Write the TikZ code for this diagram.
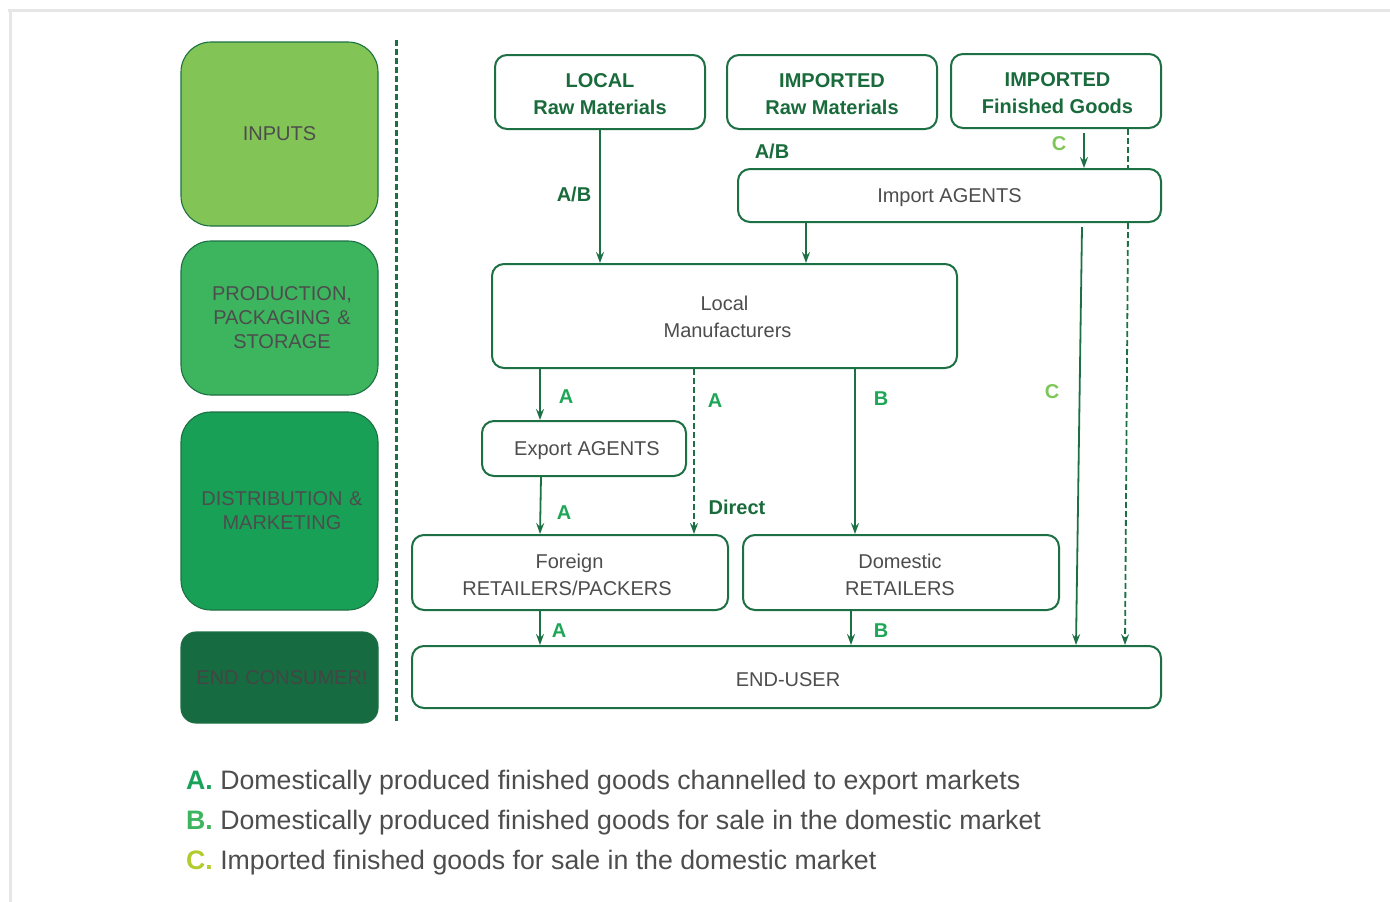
\documentclass[tikz,border=0pt]{standalone}
\usepackage{fontspec}
\setmainfont{Liberation Sans}
\usetikzlibrary{arrows.meta}
\definecolor{frame}{HTML}{E6E6E6}
\definecolor{edge}{HTML}{1D7043}
\definecolor{dkgreen}{HTML}{1A6B3C}
\definecolor{lblAB}{HTML}{1DA656}
\definecolor{lblC}{HTML}{7DC65A}
\definecolor{txt}{HTML}{4D4D4D}
\definecolor{stageA}{HTML}{82C455}
\definecolor{stageB}{HTML}{3DB55E}
\definecolor{stageC}{HTML}{18A057}
\definecolor{stageD}{HTML}{166B40}
\definecolor{legA}{HTML}{1AA15A}
\definecolor{legB}{HTML}{3DB55E}
\definecolor{legC}{HTML}{B2CC2E}
\begin{document}
\begin{tikzpicture}[x=1pt,y=-1pt,
  stage/.style={draw=edge,line width=1.1pt,rounded corners=30pt,minimum width=197pt,
    align=center,text=txt,inner sep=0pt,font=\fontsize{20}{24}\selectfont},
  box/.style={draw=edge,line width=2pt,rounded corners=12pt,fill=white,inner sep=0pt},
  boxtext/.style={align=center,inner sep=0pt,yshift=-2.5pt,text=txt,
    font=\fontsize{20}{27}\selectfont},
  srctext/.style={boxtext,text=dkgreen,font=\bfseries\fontsize{20}{27}\selectfont},
  flow/.style={draw=edge,line width=1.8pt,-{Stealth[length=11pt,width=8pt,inset=4pt]}},
  flowd/.style={flow,dash pattern=on 6pt off 3pt},
  tag/.style={inner sep=0pt,font=\bfseries\fontsize{20}{24}\selectfont},
  legend/.style={anchor=west,inner sep=0pt,text=txt,font=\fontsize{26.7}{32}\selectfont}]
\useasboundingbox (0,0) rectangle (1390,902);

% outer frame
\draw[frame,line width=3pt] (8,10) -- (1390,10);
\draw[frame,line width=3pt] (10,10) -- (10,902);

% stage column
\node[stage,fill=stageA,minimum height=184pt] (sInputs) at (279.5,134) {INPUTS};
\node[stage,fill=stageB,minimum height=154pt,text width=197pt] (sProd) at (279.5,318) {\hspace*{5pt}PRODUCTION,\\\hspace*{5pt}PACKAGING \&\\\hspace*{5pt}STORAGE};
\node[stage,fill=stageC,minimum height=198pt,text width=197pt] (sDist) at (279.5,511) {\hspace*{5pt}DISTRIBUTION \&\\\hspace*{5pt}MARKETING};
\node[stage,fill=stageD,rounded corners=15pt,minimum height=91pt,text width=197pt,text=txt!90!black] (sEnd) at (279.5,677.5) {\hspace*{5pt}END CONSUMER!};

% separator
\coordinate (sepTop) at (396,40);
\coordinate (sepBot) at (396,722);
\draw[edge,line width=3pt,dash pattern=on 6pt off 3pt] (sepTop) -- (sepBot);

% sources
\node[box,minimum width=210pt,minimum height=74pt,label={[srctext]center:LOCAL\\Raw Materials}] (lrm) at (600,92) {};
\node[box,minimum width=210pt,minimum height=74pt,label={[srctext]center:IMPORTED\\Raw Materials}] (irm) at (832,92) {};
\node[box,minimum width=210pt,minimum height=74pt,label={[srctext,xshift=1.5pt]center:IMPORTED\\Finished Goods}] (ifg) at (1056,91) {};

% chain
\node[box,minimum width=423pt,minimum height=53pt,label={[boxtext]center:Import AGENTS}] (ia) at (949.5,195.5) {};
\node[box,minimum width=465pt,minimum height=104pt,label={[boxtext,yshift=1.5pt]center:Local\\\hspace*{6pt}Manufacturers}] (lm) at (724.5,316) {};
\node[box,minimum width=204pt,minimum height=55pt,label={[boxtext,xshift=3pt]center:Export AGENTS}] (ea) at (584,448.5) {};
\node[box,minimum width=316pt,minimum height=75pt,label={[boxtext,xshift=-3pt]center:\hspace*{5pt}Foreign\\RETAILERS/PACKERS}] (fr) at (570,572.5) {};
\node[box,minimum width=316pt,minimum height=75pt,label={[boxtext,xshift=-1pt]center:Domestic\\RETAILERS}] (dr) at (901,572.5) {};
\node[box,minimum width=749pt,minimum height=62pt,label={[boxtext,xshift=1.5pt]center:END-USER}] (eu) at (786.5,677) {};

% flows
\draw[flow] (lrm.south) -- (lm.north -| lrm.south);
\draw[flow] ([xshift=-143.5pt]ia.south) -- ([xshift=81.5pt]lm.north);
\draw[flow] ([xshift=28pt,yshift=-4pt]ifg.south) -- ([xshift=134.5pt]ia.north);
\draw[flowd,-] ([xshift=72pt]ifg.south) -- ([xshift=178.5pt]ia.north);
\draw[flowd] ([xshift=178.5pt]ia.south) -- ([xshift=338.5pt]eu.north);
\draw[flow] ([xshift=132.5pt,yshift=-4pt]ia.south) -- ([xshift=289.5pt]eu.north);
\draw[flow] ([xshift=-184.5pt]lm.south) -- ([xshift=-44pt]ea.north);
\draw[flowd] ([xshift=-30.5pt]lm.south) -- ([xshift=124pt]fr.north);
\draw[flow] ([xshift=-43pt]ea.south) -- ([xshift=-30pt]fr.north);
\draw[flow] ([xshift=130.5pt]lm.south) -- ([xshift=-46pt]dr.north);
\draw[flow] ([xshift=-30pt]fr.south) -- ([xshift=-246.5pt]eu.north);
\draw[flow] ([xshift=-50pt,yshift=2pt]dr.south) -- ([xshift=64.5pt]eu.north);

% flow tags
\node[tag,text=dkgreen] (tAB1) at (574,194) {A/B};
\node[tag,text=dkgreen] (tAB2) at (772,151) {A/B};
\node[tag,text=lblC] (tC1) at (1059,144) {C};
\node[tag,text=lblC] (tC2) at (1052,392) {C};
\node[tag,text=lblAB] (tA1) at (566,396.5) {A};
\node[tag,text=lblAB] (tA2) at (715,400.5) {A};
\node[tag,text=lblAB] (tB1) at (881,398.5) {B};
\node[tag,text=lblAB] (tA3) at (564,512.5) {A};
\node[tag,text=dkgreen] (tDirect) at (737,507.5) {Direct};
\node[tag,text=lblAB] (tA4) at (559,630.5) {A};
\node[tag,text=lblAB] (tB2) at (881,630.5) {B};

% key
\node[legend] (kA) at (186,783) {\textbf{\color{legA}A.} Domestically produced finished goods channelled to export markets};
\node[legend] (kB) at (186,823) {\textbf{\color{legB}B.} Domestically produced finished goods for sale in the domestic market};
\node[legend] (kC) at (186,863) {\textbf{\color{legC}C.} Imported finished goods for sale in the domestic market};
\end{tikzpicture}
\end{document}
